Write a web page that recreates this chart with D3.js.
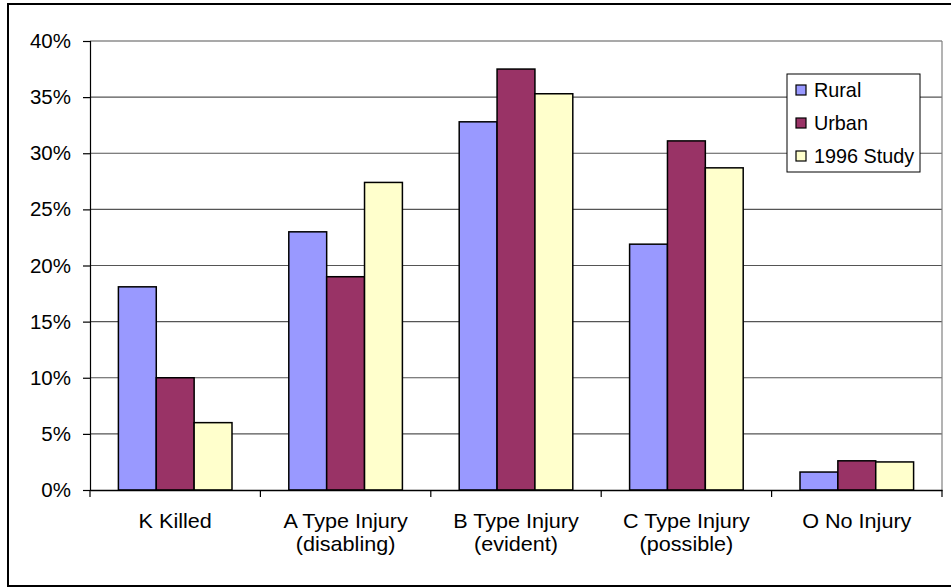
<!DOCTYPE html>
<html><head><meta charset="utf-8">
<script src="https://cdn.jsdelivr.net/npm/d3@7"></script>
<style>
html,body{margin:0;padding:0;background:#fff;}
svg{display:block;font-family:"Liberation Sans",Arial,sans-serif;}
</style></head>
<body>
<svg id="chart" width="951" height="588"></svg>
<script>
const categories = [["K Killed"],["A Type Injury","(disabling)"],["B Type Injury","(evident)"],["C Type Injury","(possible)"],["O No Injury"]];
const seriesNames = ["Rural","Urban","1996 Study"];
const rural = [0.181, 0.230, 0.328, 0.219, 0.016];
const urban = [0.100, 0.190, 0.375, 0.311, 0.026];
const study = [0.060, 0.274, 0.353, 0.287, 0.025];
const colors = ["#9999FF","#993366","#FFFFCC"];
const yTicks = [0,0.05,0.10,0.15,0.20,0.25,0.30,0.35,0.40];

const seriesValues = [rural, urban, study];
const svg = d3.select("#chart");
const L=90, R=942, T=41, B=490;

svg.append("rect").attr("x",8).attr("y",4).attr("width",960).attr("height",582)
  .attr("fill","#fff").attr("stroke","#000").attr("stroke-width",2);

const keys = categories.map(c=>c.join(" "));
const x = d3.scaleBand().domain(keys).range([L,R]).paddingInner(0).paddingOuter(0);
const bw = x.bandwidth();
const gap = bw/4.5*1.5/2;
const xs = d3.scaleBand().domain(seriesNames).range([gap,bw-gap]).padding(0);
const y = d3.scaleLinear().domain([0,0.40]).range([B,T]);

// gridlines
svg.append("g").selectAll("line").data(yTicks.filter(d=>d>0)).join("line")
  .attr("x1",L).attr("x2",R).attr("y1",d=>y(d)).attr("y2",d=>y(d))
  .attr("stroke","#555").attr("stroke-width",1.2);
// right border of plot
svg.append("line").attr("x1",R).attr("x2",R).attr("y1",T).attr("y2",B)
  .attr("stroke","#808080").attr("stroke-width",1.2);

// bars
seriesNames.forEach((s,si)=>{
  svg.append("g").selectAll("rect").data(seriesValues[si]).join("rect")
    .attr("x",(d,i)=>x(keys[i])+xs(s))
    .attr("y",d=>y(d))
    .attr("width",xs.bandwidth())
    .attr("height",d=>B-y(d))
    .attr("fill",colors[si]).attr("stroke","#000").attr("stroke-width",1.5);
});

// y axis
const yAxis = d3.axisLeft(y).tickValues(yTicks).tickFormat(d3.format(".0%")).tickSize(7).tickPadding(12);
const gy = svg.append("g").attr("transform",`translate(${L},0)`).call(yAxis);
gy.select(".domain").attr("stroke","#000").attr("stroke-width",1.2);
gy.selectAll(".tick line").attr("stroke","#000").attr("stroke-width",1.2);
gy.selectAll("text").attr("font-size",20.5).attr("fill","#000").attr("font-family","Liberation Sans, Arial, sans-serif");

// x axis
const xAxis = d3.axisBottom(x).tickSize(0).tickFormat(()=>"");
const gx = svg.append("g").attr("transform",`translate(0,${B})`).call(xAxis);
gx.select(".domain").attr("stroke","#000").attr("stroke-width",1.5);
gx.selectAll(".tick").remove();
const bounds = keys.map(k=>x(k)).concat([R]);
svg.append("g").selectAll("line").data(bounds).join("line")
  .attr("x1",d=>d).attr("x2",d=>d).attr("y1",B).attr("y2",B+7)
  .attr("stroke","#000").attr("stroke-width",1.2);

const labels = svg.append("g").selectAll("g").data(categories).join("g")
  .attr("transform",(d,i)=>`translate(${x(keys[i])+bw/2},528) scale(1.08,1)`);
labels.each(function(d){
  const g=d3.select(this);
  const t=g.append("text").attr("x",0).attr("y",0)
    .attr("text-anchor","middle").attr("font-size",20).attr("fill","#000");
  d.forEach((line,li)=>{
    t.append("tspan").attr("x",0).attr("dy",li===0?0:23).text(line);
  });
});

// legend
const lg = svg.append("g");
lg.append("rect").attr("x",787).attr("y",74).attr("width",133).attr("height",98)
  .attr("fill","#fff").attr("stroke","#000").attr("stroke-width",1);
seriesNames.forEach((s,i)=>{
  const cy = 90 + i*33;
  lg.append("rect").attr("x",796).attr("y",cy-5).attr("width",10).attr("height",10)
    .attr("fill",colors[i]).attr("stroke","#000").attr("stroke-width",1.2);
  lg.append("text").attr("x",814).attr("y",cy).attr("dy","0.35em")
    .attr("font-size",19.8).attr("fill","#000").text(s);
});
</script>
</body></html>
